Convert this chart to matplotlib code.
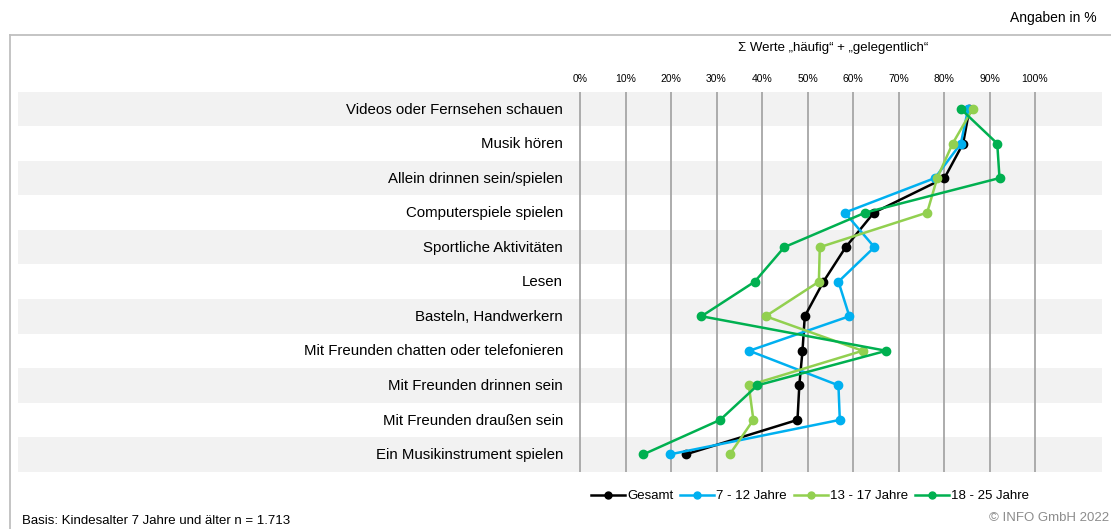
import matplotlib.pyplot as plt
from matplotlib.lines import Line2D

plt.rcParams['font.family'] = ['Liberation Sans', 'DejaVu Sans']

categories = [
    "Videos oder Fernsehen schauen",
    "Musik hören",
    "Allein drinnen sein/spielen",
    "Computerspiele spielen",
    "Sportliche Aktivitäten",
    "Lesen",
    "Basteln, Handwerkern",
    "Mit Freunden chatten oder telefonieren",
    "Mit Freunden drinnen sein",
    "Mit Freunden draußen sein",
    "Ein Musikinstrument spielen",
]

gesamt = [85.6, 84.2, 80.1, 64.6, 58.4, 53.5, 49.4, 48.9, 48.2, 47.8, 23.2]
jahre_7_12 = [85.3, 83.7, 78.0, 58.2, 64.7, 56.8, 59.2, 37.2, 56.8, 57.1, 19.7]
jahre_13_17 = [86.3, 81.9, 78.5, 76.3, 52.7, 52.5, 40.8, 62.1, 37.1, 38.1, 32.9]
jahre_18_25 = [83.7, 91.7, 92.2, 62.7, 44.9, 38.4, 26.7, 67.3, 39.0, 30.8, 13.9]

series_names = ["Gesamt", "7 - 12 Jahre", "13 - 17 Jahre", "18 - 25 Jahre"]
series_values = [gesamt, jahre_7_12, jahre_13_17, jahre_18_25]
colors = ["#000000", "#00B0F0", "#92D050", "#00B050"]

ticks = list(range(0, 101, 10))

W, H = 1111, 529
fig = plt.figure(figsize=(W / 100, H / 100), dpi=100)

# axes spans the shaded band area: x 18..1102 px, y 91.7..471.7 px
x0_px, x1_px = 18, 1102
zero_px, per_pct = 580, 4.55
ax = fig.add_axes([x0_px / W, (H - 471.7) / H, (x1_px - x0_px) / W, 380 / H])
ax.set_xlim((x0_px - zero_px) / per_pct, (x1_px - zero_px) / per_pct)
ax.set_ylim(len(categories) - 0.5, -0.5)

for i in range(len(categories)):
    if i % 2 == 0:
        ax.axhspan(i - 0.5, i + 0.5, color="#F2F2F2", lw=0, zorder=0)
    ax.text(-3.7, i + 0.02, categories[i], ha="right", va="center", fontsize=10.8, color="#000000")

for t in ticks:
    ax.axvline(t, color="#A6A6A6", lw=1.3, zorder=1)
    ax.text(t, -0.5 - 0.22, f"{t}%", ha="center", va="bottom", fontsize=7.5)

y = list(range(len(categories)))
handles = []
for name, vals, c in zip(series_names, series_values, colors):
    ax.plot(vals, y, color=c, lw=1.8, marker="o", ms=6, zorder=3)
    handles.append(Line2D([], [], color=c, lw=1.8, marker="o", ms=5, label=name))

for s in ax.spines.values():
    s.set_visible(False)
ax.set_xticks([])
ax.set_yticks([])

fig.legend(handles=handles, loc="center", bbox_to_anchor=(810 / W, 1 - 496 / H), ncol=4,
           frameon=False, fontsize=9.5, handlelength=2.6, handletextpad=0.15,
           columnspacing=0.5, borderaxespad=0)

# frame lines
fig.add_artist(Line2D([10 / W, 1], [1 - 34.5 / H] * 2, color="#BFBFBF", lw=1.3))
fig.add_artist(Line2D([10 / W] * 2, [1 - 34.5 / H, 0], color="#BFBFBF", lw=1.3))

fig.text(1097 / W, 1 - 18 / H, "Angaben in %", ha="right", va="center", fontsize=10)
fig.text(833 / W, 1 - 48 / H, "Σ Werte „häufig“ + „gelegentlich“", ha="center", va="center", fontsize=9.5)
fig.text(22 / W, 1 - 521 / H, "Basis: Kindesalter 7 Jahre und älter n = 1.713", ha="left", va="center", fontsize=9.5)
fig.text(1109 / W, 1 - 518 / H, "© INFO GmbH 2022", ha="right", va="center", fontsize=9.5, color="#8C8C8C")

fig.savefig("out.png", dpi=100)
